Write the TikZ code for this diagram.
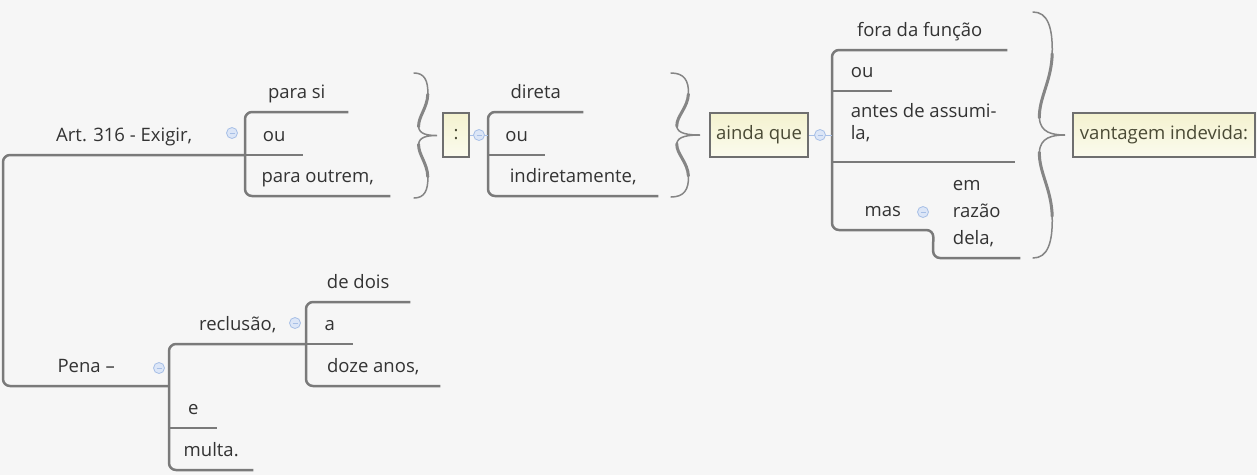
\documentclass[tikz,border=0pt]{standalone}
\usepackage{fontspec}
\setmainfont{Open Sans}

\definecolor{fundo}{HTML}{F6F6F6}
\definecolor{linha}{HTML}{7A7A7A}
\definecolor{chavecor}{HTML}{858585}
\definecolor{texto}{HTML}{333333}
\definecolor{caixatexto}{HTML}{4A4A35}
\definecolor{caixaborda}{HTML}{6F6F6F}
\definecolor{caixatopo}{HTML}{F4F2CF}
\definecolor{caixabase}{HTML}{FBFBEE}
\definecolor{botaofundo}{HTML}{DCE6F7}
\definecolor{botaolinha}{HTML}{A7BFE6}

\newcommand{\fonteramo}{\fontsize{18.5}{22}\selectfont}

\begin{document}
\begin{tikzpicture}[x=1pt, y=-1pt,
    ramo/.style={draw=linha, line width=2.5pt, rounded corners=7pt},
    topico/.style={anchor=south west, inner xsep=0pt, inner ysep=0pt,
        text height=13pt, text depth=13pt, text=texto, font=\fonteramo},
    caixa/.style={draw=caixaborda, line width=2pt, top color=caixatopo,
        bottom color=caixabase, text=caixatexto, font=\fonteramo,
        inner sep=0pt, minimum height=44},
    botao/.style={circle, minimum size=11pt, inner sep=0pt, fill=botaofundo,
        draw=botaolinha, line width=0.8pt,
        path picture={\draw[botaolinha, line width=1pt]
            ([xshift=-2.5pt]path picture bounding box.center) --
            ([xshift=2.5pt]path picture bounding box.center);}},
    elo/.style={draw=botaolinha, line width=1pt},
    chave/.pic={
        \draw[chavecor, line width=1.5pt, line cap=round]
            (0,0) .. controls (0.45,0) and (0.62,0.06) .. (0.6,0.17)
            .. controls (0.58,0.28) and (0.18,0.35) .. (0.2,0.43)
            .. controls (0.22,0.49) and (0.6,0.5) .. (1,0.5)
            .. controls (0.6,0.5) and (0.22,0.51) .. (0.2,0.57)
            .. controls (0.18,0.65) and (0.58,0.72) .. (0.6,0.83)
            .. controls (0.62,0.94) and (0.45,1) .. (0,1);
        \draw[chavecor, line width=3pt, line cap=round]
            (0.6,0.17) .. controls (0.58,0.28) and (0.18,0.35) .. (0.2,0.43);
        \draw[chavecor, line width=3pt, line cap=round]
            (0.2,0.57) .. controls (0.18,0.65) and (0.58,0.72) .. (0.6,0.83);
    }]

        \useasboundingbox (0,0) rectangle (1257,475);
        \fill[fundo] (0,0) rectangle (1257,475);

        % Art. 316
        \node[topico, minimum width=242] (art) at (3,155) {Art. 316 - Exigir,};
        \node[topico, minimum width=103] (parasi) at (245,112) {para si};
        \node[topico, minimum width=58] (ou1) at (245,155) {ou};
        \node[topico, minimum width=145] (outrem) at (245,196) {para outrem,};

        \node[caixa, minimum width=26] (doispontos) at (456,135) {:};
        \node[topico, minimum width=95] (direta) at (488,112) {direta};
        \node[topico, minimum width=57] (ou2) at (488,155) {ou};
        \node[topico, minimum width=170] (indireta) at (488,196) {indiretamente,};

        \node[caixa, minimum width=98] (aindaque) at (759,135) {ainda que};
        \node[topico, minimum width=175] (fora) at (832,50) {fora da função};
        \node[topico, minimum width=60] (ou3) at (832,91) {ou};
        \node[topico, minimum width=183, align=left, text depth=22pt] (antes) at (832,162) {antes de assumi-\\la,};
        \node[topico, minimum width=101] (mas) at (832,230) {mas};
        \node[topico, minimum width=87, align=left] (razao) at (933,258) {em\\[5pt]razão\\[5pt]dela,};

        \node[caixa, minimum width=182] (vantagem) at (1164,135) {vantagem indevida:};

        % Pena
        \node[topico, minimum width=166] (pena) at (3,386) {Pena –};
        \node[topico, minimum width=137] (reclusao) at (169,344) {reclusão,};
        \node[topico, minimum width=104] (dedois) at (306,302) {de dois};
        \node[topico, minimum width=47] (letraa) at (306,344) {a};
        \node[topico, minimum width=134] (doze) at (306,386) {doze anos,};
        \node[topico, minimum width=48] (e) at (169,428) {e};
        \node[topico, minimum width=84] (multa) at (169,470) {multa.};

        % ligacoes
        \draw[ramo] (art.south east) -- (art.south west) -- (pena.south west) -- (pena.south east);
        \draw[ramo] (parasi.south east) -- (parasi.south west) -- (outrem.south west) -- (outrem.south east);
        \draw[ramo] (ou1.south west) -- (ou1.south east);
        \draw[ramo] (direta.south east) -- (direta.south west) -- (indireta.south west) -- (indireta.south east);
        \draw[ramo] (ou2.south west) -- (ou2.south east);
        \draw[ramo] (fora.south east) -- (fora.south west) -- (mas.south west) -- (mas.south east)
            -- (razao.south west) -- (razao.south east);
        \draw[ramo] (ou3.south west) -- (ou3.south east);
        \draw[ramo] (antes.south west) -- (antes.south east);
        \draw[ramo] (multa.south east) -- (multa.south west) -- (reclusao.south west) -- (reclusao.south east);
        \draw[ramo] (e.south west) -- (e.south east);
        \draw[ramo] (dedois.south east) -- (dedois.south west) -- (doze.south west) -- (doze.south east);
        \draw[ramo] (letraa.south west) -- (letraa.south east);

        % chaves
        \pic[xscale=23, yscale=125] (chave1) at (414,73) {chave};
        \pic[xscale=29, yscale=124] (chave2) at (671,73) {chave};
        \pic[xscale=32, yscale=246] (chave3) at (1033,12) {chave};

        % botoes
        \draw[elo] (doispontos.east) -- (doispontos.east -| direta.south west);
        \draw[elo] (aindaque.east) -- (aindaque.east -| fora.south west);
        \node[botao] (b-art) at (232,133) {};
        \node[botao] (b-pena) at (159,368) {};
        \node[botao] (b-reclusao) at (295,323) {};
        \node[botao] (b-mas) at (923,212) {};
        \node[botao] (b-doispontos) at (479,135) {};
        \node[botao] (b-aindaque) at (820,135) {};
    \end{tikzpicture}
\end{document}
